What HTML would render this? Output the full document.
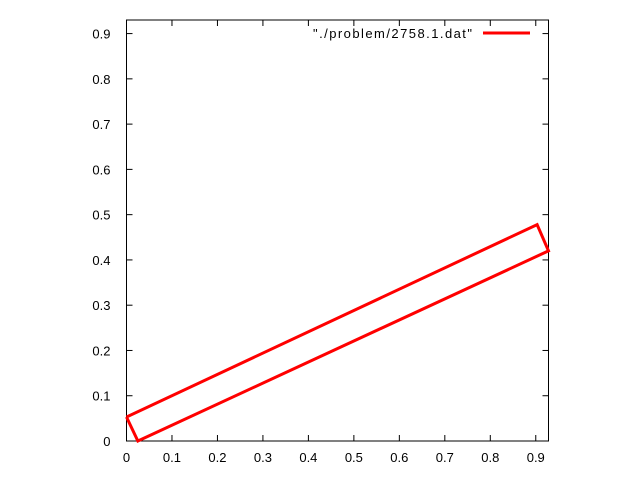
<!DOCTYPE html>
<html><head><meta charset="utf-8"><style>body{margin:0;background:#fff}svg{display:block}text{font-family:"Liberation Sans",sans-serif;font-size:13px;fill:#000}</style></head>
<body>
<svg id="chart" width="640" height="480" xmlns="http://www.w3.org/2000/svg"></svg>
<script>
const xTicks=[0,0.1,0.2,0.3,0.4,0.5,0.6,0.7,0.8,0.9];
const yTicks=[0,0.1,0.2,0.3,0.4,0.5,0.6,0.7,0.8,0.9];
const xs=[0.0,0.025,0.928,0.903,0.0];
const ys=[0.053,0.0,0.42,0.478,0.053];
const L=126.5,R=548.5,T=20,B=441,XMAX=0.928,YMAX=0.93;
const sx=v=>L+v/XMAX*(R-L), sy=v=>B-v/YMAX*(B-T);
const svg=document.getElementById('chart');const NS='http://www.w3.org/2000/svg';
function mk(t,a,txt){const e=document.createElementNS(NS,t);for(const k in a)e.setAttribute(k,a[k]);if(txt!=null)e.textContent=txt;svg.appendChild(e);return e;}
xTicks.forEach(v=>{const x=sx(v);
 let e=mk('line',{x1:x,y1:B,x2:x,y2:B-6,stroke:'#000'});
 e=mk('line',{x1:x,y1:T,x2:x,y2:T+6,stroke:'#000'});
 e=mk('text',{x:x,y:B+21,'text-anchor':'middle'},String(v));});
yTicks.forEach(v=>{const y=sy(v);
 let e=mk('line',{x1:L,y1:y,x2:L+6,y2:y,stroke:'#000'});
 e=mk('line',{x1:R,y1:y,x2:R-6,y2:y,stroke:'#000'});
 e=mk('text',{x:L-16,y:y+5,'text-anchor':'end'},String(v));});
let f=mk('rect',{x:L,y:T,width:R-L,height:B-T,fill:'none',stroke:'#000'});


let p=mk('polyline',{points:xs.map((v,i)=>sx(v)+','+sy(ys[i])).join(' '),fill:'none',stroke:'#f00','stroke-width':3,'stroke-linejoin':'miter'});


let lt=mk('text',{x:313,y:38,textLength:159,lengthAdjust:'spacing','font-size':'14'},'"./problem/2758.1.dat"');


let ll=mk('line',{x1:483,y1:33,x2:530,y2:33,stroke:'#f00','stroke-width':3});


</script>
</body></html>
